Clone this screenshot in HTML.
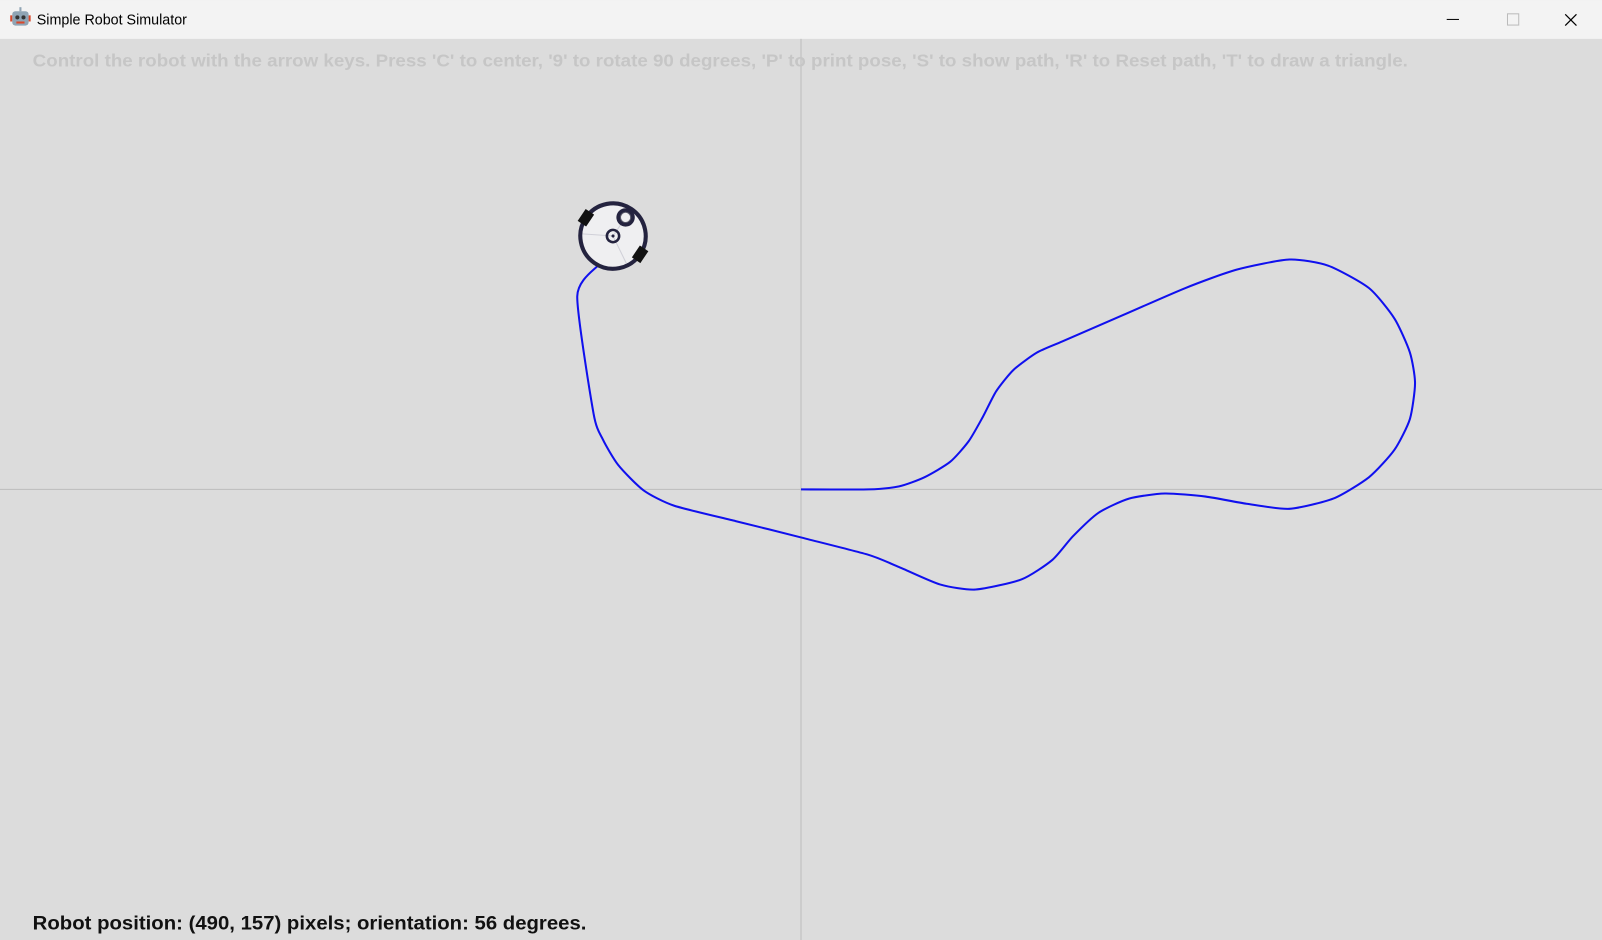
<!DOCTYPE html>
<html><head><meta charset="utf-8"><style>
html,body{margin:0;padding:0;width:1602px;height:940px;overflow:hidden;background:#dcdcdc}
svg{display:block}
text{font-family:"Liberation Sans",sans-serif}
</style></head><body>
<svg id="chart" width="1602" height="940" viewBox="0 0 1568 920" xmlns="http://www.w3.org/2000/svg">
  <rect x="0" y="0" width="1568" height="920" fill="#dcdcdc"/>
  <rect x="0" y="0" width="1568" height="38" fill="#f3f3f3"/>
  <g>
    <rect x="12" y="11" width="16" height="14" rx="3" fill="#8fa4b4"/>
    <rect x="10" y="15" width="2" height="6" fill="#d9482b"/><rect x="28" y="15" width="2" height="6" fill="#d9482b"/>
    <circle cx="17" cy="17" r="2" fill="#333"/><circle cx="23" cy="17" r="2" fill="#333"/>
    <rect x="16" y="21" width="8" height="2" fill="#d9482b"/><rect x="19" y="7" width="2" height="4" fill="#8fa4b4"/>
  </g>
  <text x="36" y="24" font-size="14" fill="#000">Simple Robot Simulator</text>
  <line x1="1416" y1="19" x2="1428" y2="19" stroke="#000" stroke-width="1"/>
  <rect x="1475.5" y="13.5" width="11" height="11" fill="none" stroke="#bbb"/>
  <path d="M1532 14 L1543 25 M1543 14 L1532 25" stroke="#000" stroke-width="1.2"/>
  <line x1="784" y1="38" x2="784" y2="920" stroke="#bdbdbd" stroke-width="1"/>
  <line x1="0" y1="479" x2="1568" y2="479" stroke="#bdbdbd" stroke-width="1"/>
  <text x="32" y="65" font-size="17" font-weight="bold" fill="#c6c6c6" textLength="1346" lengthAdjust="spacingAndGlyphs">Control the robot with the arrow keys. Press 'C' to center, '9' to rotate 90 degrees, 'P' to print pose, 'S' to show path, 'R' to Reset path, 'T' to draw a triangle.</text>
  <g id="pathLayer"></g>
  <g id="robotLayer"></g>
  <text x="32" y="910" font-size="19" font-weight="bold" fill="#111" textLength="542" lengthAdjust="spacingAndGlyphs">Robot position: (490, 157) pixels; orientation: 56 degrees.</text>
</svg>
<script>
const pathX = [784,850,880,905,930,948,962,975,992,1015,1040,1100,1160,1210,1262,1300,1340,1365,1380,1385,1380,1365,1340,1305,1262,1220,1180,1140,1105,1075,1050,1030,1000,955,920,880,850,784,720,660,630,605,590,581,565,585];
const pathY = [479,479,476,467,452,432,408,383,362,345,334,308,282,264,254,260,282,312,345,375,410,440,467,488,498,493,486,483,488,502,525,548,567,577,572,555,543,526,510,495,480,455,430,405,290,260];
const robotPos = [600, 231];
const robotAngle = [56];

const NS = "http://www.w3.org/2000/svg";
function smoothPath(xs, ys){
  const t = 9;
  let d = 'M' + xs[0] + ' ' + ys[0];
  for (let i = 0; i < xs.length - 1; i++) {
    const i0 = Math.max(0, i-1), i3 = Math.min(xs.length-1, i+2);
    const c1x = xs[i] + (xs[i+1]-xs[i0])/t, c1y = ys[i] + (ys[i+1]-ys[i0])/t;
    const c2x = xs[i+1] - (xs[i3]-xs[i])/t, c2y = ys[i+1] - (ys[i3]-ys[i])/t;
    d += ' C' + c1x.toFixed(1)+' '+c1y.toFixed(1)+' '+c2x.toFixed(1)+' '+c2y.toFixed(1)+' '+xs[i+1]+' '+ys[i+1];
  }
  return d;
}
const pl = document.getElementById('pathLayer');
const p = document.createElementNS(NS,'path');
p.setAttribute('d', smoothPath(pathX, pathY));
p.setAttribute('fill','none');p.setAttribute('stroke','#1010ee');p.setAttribute('stroke-width','2');
p.setAttribute('stroke-linejoin','round');


pl.appendChild(p);

const rl = document.getElementById('robotLayer');
const g = document.createElementNS(NS,'g');


g.setAttribute('transform','translate('+robotPos[0]+','+robotPos[1]+') rotate('+(-robotAngle[0])+')');
g.innerHTML =
 '<circle r="32" fill="#efeff1" stroke="#24233f" stroke-width="4"/>'+
 '<line x1="0" y1="0" x2="30" y2="0" stroke="#d0d0d8" stroke-width="1"/>'+
 '<line x1="0" y1="0" x2="-15" y2="26" stroke="#d0d0d8" stroke-width="1"/>'+
 '<line x1="0" y1="0" x2="-15" y2="-26" stroke="#d0d0d8" stroke-width="1"/>'+
 '<rect x="-7" y="-37" width="14" height="10" fill="#111"/>'+
 '<rect x="-7" y="27" width="14" height="10" fill="#111"/>'+
 '<circle r="6" fill="none" stroke="#24233f" stroke-width="2.5"/><circle r="1.5" fill="#24233f"/>'+
 '<circle cx="22" cy="0" r="9" fill="#24233f"/><circle cx="22" cy="0" r="5" fill="#efeff1" stroke="#556" stroke-width="1"/>';
rl.appendChild(g);
</script>
</body></html>
